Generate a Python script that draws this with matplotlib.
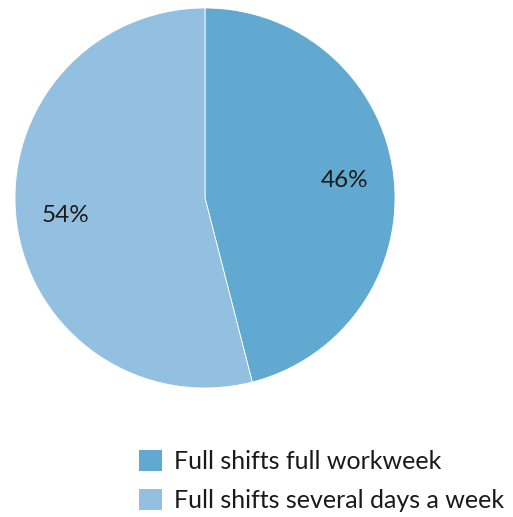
import matplotlib.pyplot as plt
from matplotlib.patches import Patch

plt.rcParams["font.family"] = ["Lato", "DejaVu Sans"]

labels = ["Full shifts full workweek", "Full shifts several days a week"]
shares = [46, 54]
colors = ["#62a9d1", "#93c0e1"]

fig = plt.figure(figsize=(5.13, 5.17), dpi=100)
ax = fig.add_axes([15 / 513, 1 - 388 / 517, 380 / 513, 380 / 517])

ax.pie(
    shares,
    colors=colors,
    startangle=90,
    counterclock=False,
    radius=1,
    autopct="%d%%",
    pctdistance=0.74,
    wedgeprops=dict(edgecolor="white", linewidth=0.6),
    textprops=dict(fontsize=17.5, color="#1a1a1a"),
)
ax.set_xlim(-1, 1)
ax.set_ylim(-1, 1)
ax.set_aspect("equal")
ax.axis("off")

handles = [Patch(facecolor=c, edgecolor="none") for c in colors]
fig.legend(
    handles,
    labels,
    loc="upper left",
    bbox_to_anchor=(139 / 513, 1 - 450 / 517),
    frameon=False,
    fontsize=18,
    borderpad=0,
    borderaxespad=0,
    handlelength=0.92,
    handleheight=0.92,
    handletextpad=0.5,
    labelspacing=0.62,
    labelcolor="#1a1a1a",
)

fig.savefig("out.png", dpi=100)
